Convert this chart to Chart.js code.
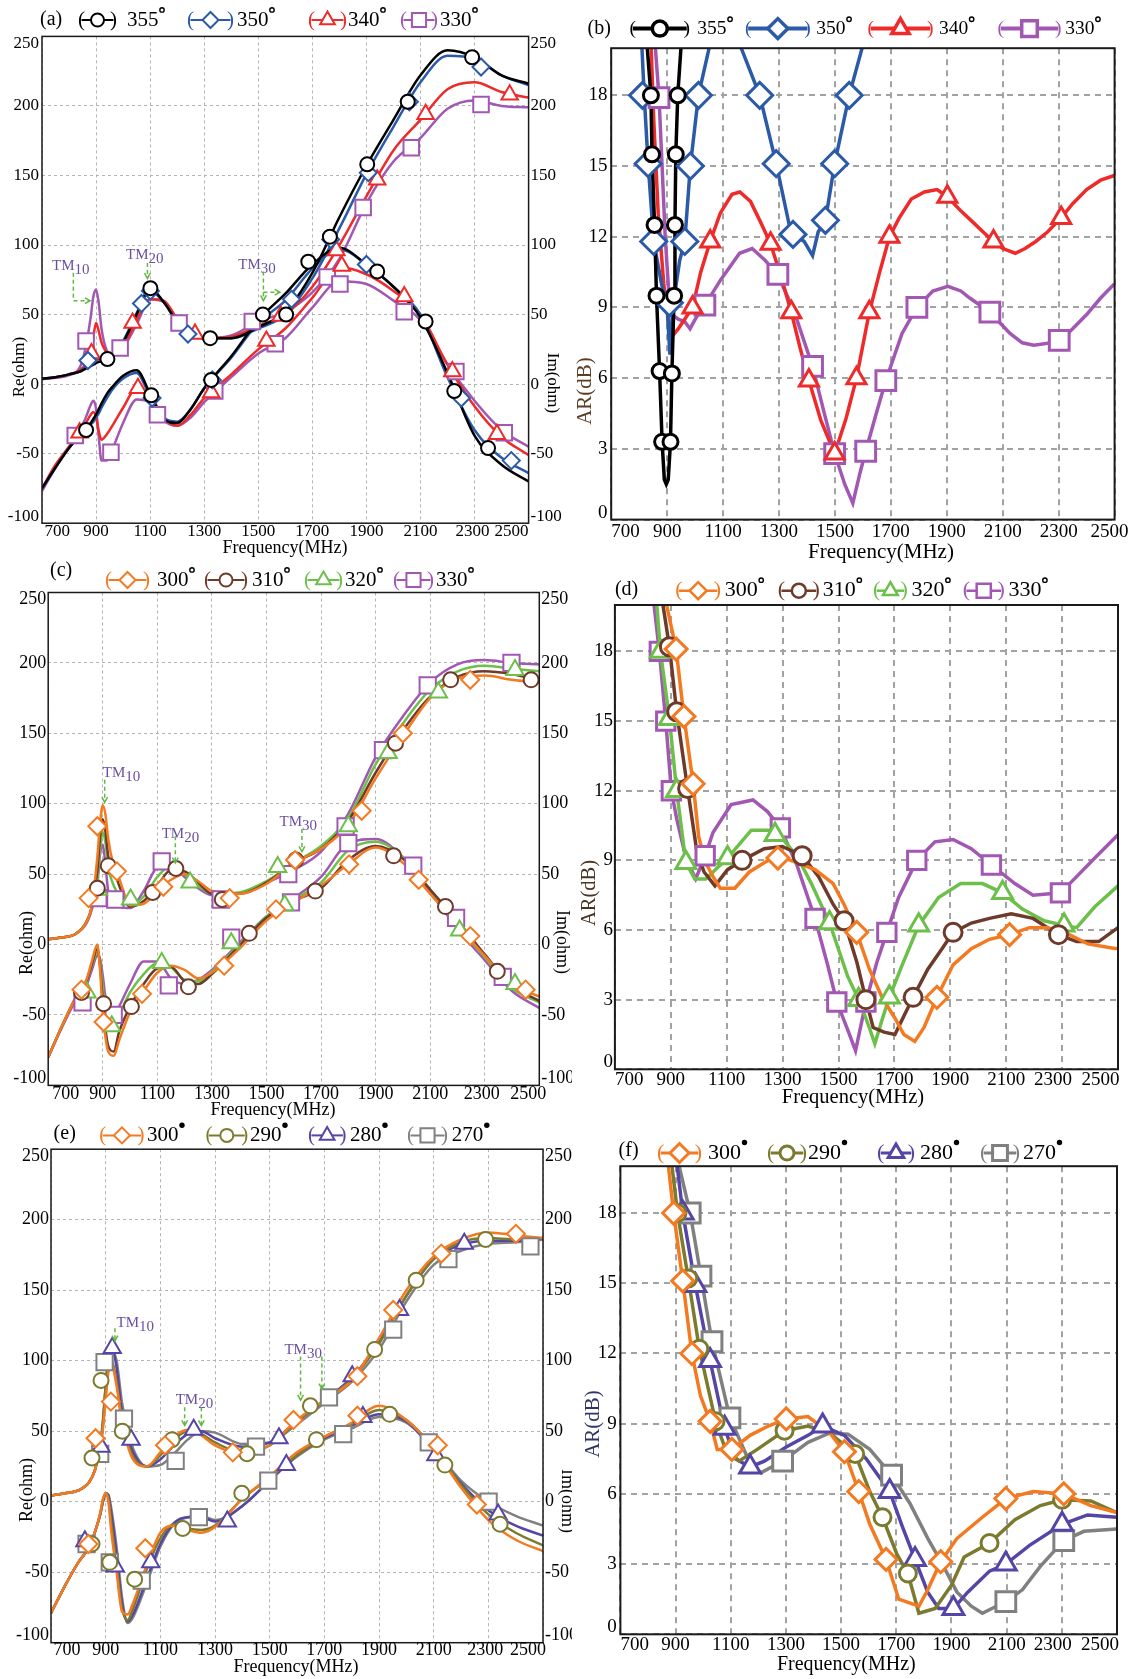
<!DOCTYPE html>
<html>
<head>
<meta charset="utf-8">
<title>Input impedance and axial ratio versus frequency</title>
<script src="https://cdn.jsdelivr.net/npm/chart.js@4.4.1/dist/chart.umd.min.js"></script>
<style>
  html, body { margin: 0; padding: 0; background: #fff; }
  #sheet { position: relative; width: 1134px; height: 1679px; overflow: hidden; }
  #sheet canvas { position: absolute; }
</style>
</head>
<body>
<div id="sheet">
  <canvas id="chartA"></canvas>
  <canvas id="chartB"></canvas>
  <canvas id="chartC"></canvas>
  <canvas id="chartD"></canvas>
  <canvas id="chartE"></canvas>
  <canvas id="chartF"></canvas>
</div>
<script>
const SERIF = '"Liberation Serif", "Times New Roman", serif';
Chart.defaults.font.family = SERIF;
Chart.defaults.color = '#000';

// frequency grid (MHz) for the impedance curves of (a) and (c)
const FREQ_AC = [700, 750, 800, 840, 860, 880, 890, 900, 910, 920, 940, 960, 1000, 1050, 1100, 1150, 1200, 1250, 1300, 1400, 1500, 1600, 1700, 1800, 1900, 2000, 2100, 2200, 2300, 2400, 2500];
// frequency grid (MHz) for the impedance curves of (e)
const FREQ_E = [700, 750, 800, 840, 860, 880, 890, 900, 910, 920, 940, 960, 980, 1000, 1050, 1100, 1150, 1200, 1250, 1300, 1400, 1500, 1600, 1700, 1800, 1900, 2000, 2100, 2200, 2300, 2400, 2500];

// (a) real / imaginary part (ohm), 355 / 350 / 340 / 330 deg
const RE_A_355 = [4, 5, 7, 9, 11, 13, 14, 15, 16, 16.5, 18, 21, 30, 50, 69, 59, 45, 37, 33, 33, 41, 52, 80, 120, 157, 190, 222, 240, 235, 222, 216];
const RE_A_350 = [4, 5, 7, 9, 12, 15, 16, 17, 18, 18.5, 19.5, 22, 31, 51, 67, 59, 45, 37, 33, 33, 40, 50, 76, 112, 151, 185, 217, 236, 234, 222, 215];
const RE_A_340 = [4, 5, 7, 10, 14, 22, 34, 44, 38, 30, 23, 22, 27, 46, 61, 60, 47, 37, 33, 34, 42, 50, 70, 100, 135, 168, 190, 212, 217, 210, 206];
const RE_A_330 = [3.5, 4.5, 6.5, 12, 25, 48, 63, 68, 58, 40, 24, 21, 26, 43, 61, 59, 45, 37, 33, 35, 45, 52, 66, 90, 130, 160, 177, 198, 204, 200, 199];
const IM_A_355 = [-75, -60, -46, -37, -33, -28, -25, -22, -18, -14, -7, -2, 6, 10, -7, -25, -28, -18, -3, 20, 46, 65, 86, 98, 86, 70, 48, 8, -37, -58, -70];
const IM_A_350 = [-75, -60, -46, -37, -33, -29, -27, -24, -21, -17, -10, -4, 4, 8, -9, -24, -27, -18, -3, 19, 44, 60, 83, 97, 86, 70, 50, 5, -33, -53, -64];
const IM_A_340 = [-75, -58, -45, -35, -29, -22, -20, -24, -34, -40, -36, -30, -17, -3, -8, -24, -30, -22, -10, 7, 25, 40, 62, 84, 79, 67, 50, 14, -16, -38, -51];
const IM_A_330 = [-77, -60, -45, -33, -25, -15, -12, -18, -38, -55, -55, -47, -28, -11, -13, -26, -30, -24, -13, 5, 22, 33, 55, 74, 72, 60, 46, 14, -12, -33, -45];
const MK_A_355 = [[863, -33], [942, 18], [1101, 69], [1104, -8], [1322, 33], [1326, 3], [1517, 50], [1603, 50], [1685, 88], [1765, 106], [1903, 158], [1940, 81], [2053, 203], [2119, 45], [2225, -5], [2291, 235], [2350, -46]];
const MK_A_350 = [[870, 17], [1068, 58], [1101, 67], [1107, -10], [1240, 36], [1330, 3], [1623, 61], [1768, 104], [1900, 86], [1907, 152], [2059, 203], [2251, -10], [2324, 228], [2436, -55]];
const MK_A_340 = [[839, -35], [883, 22], [1035, 44], [1055, -3], [1266, 36], [1326, -6], [1530, 31], [1583, 49], [1789, 96], [1809, 85], [1940, 147], [2040, 63], [2119, 194], [2218, 9], [2383, -36], [2430, 208]];
const MK_A_330 = [[823, -37], [863, 31], [955, -49], [989, 26], [1127, -22], [1207, 44], [1339, -5], [1478, 45], [1563, 29], [1755, 77], [1802, 72], [1888, 127], [2040, 52], [2066, 170], [2231, 9], [2324, 201], [2410, -35]];

// (b) axial ratio (dB), [MHz, dB]
const AR_B_355 = [[820, 24], [829, 20], [842, 18], [846, 15.5], [855, 12.5], [862, 9.5], [873, 6.3], [882, 3.3], [890, 1.7], [897, 1.5], [904, 1.7], [912, 3.3], [917, 6.2], [925, 9.5], [928, 12.5], [931, 15.5], [938, 18], [955, 21], [960, 24]];
const AR_B_350 = [[800, 24], [810, 20], [818, 18], [832, 15.1], [852, 11.8], [880, 10], [900, 9], [910, 7], [920, 9], [945, 11], [963, 11.8], [983, 15], [1012, 18], [1050, 20], [1060, 22], [1110, null], [1150, 22], [1165, 20], [1231, 18], [1290, 15.1], [1342, 12.2], [1390, 11.8], [1420, 11.2], [1440, 12.2], [1466, 12.7], [1499, 15.1], [1551, 18], [1597, 20], [1610, 22]];
const AR_B_340 = [[836, 24], [843, 20], [852, 17], [868, 13], [888, 10], [905, 8.4], [920, 7.8], [940, 8.1], [991, 9], [1020, 10.5], [1054, 11.8], [1090, 13], [1132, 13.8], [1160, 13.9], [1198, 13.5], [1235, 12.6], [1270, 11.7], [1310, 10.2], [1344, 8.8], [1375, 7.3], [1407, 5.9], [1450, 4.2], [1499, 2.8], [1540, 4.3], [1577, 6], [1623, 8.8], [1660, 10.5], [1695, 12], [1730, 12.8], [1773, 13.6], [1820, 13.9], [1865, 14], [1902, 13.7], [1950, 13.1], [1995, 12.6], [2030, 12.2], [2067, 11.8], [2100, 11.5], [2145, 11.3], [2180, 11.5], [2218, 11.8], [2260, 12.2], [2309, 12.8], [2350, 13.4], [2400, 14], [2450, 14.4], [2499, 14.6]];
const AR_B_330 = [[848, 24], [858, 20], [871, 17.9], [882, 15], [893, 12], [905, 9.8], [917, 8.7], [940, 8.5], [963, 8.4], [982, 8.1], [1005, 8.6], [1035, 9.1], [1093, 10.2], [1159, 11.3], [1204, 11.5], [1250, 11], [1296, 10.4], [1355, 8.8], [1420, 6.5], [1460, 4.6], [1499, 2.8], [1535, 1.5], [1564, 0.7], [1590, 2], [1610, 2.9], [1650, 4.6], [1682, 5.9], [1740, 7.9], [1793, 9], [1850, 9.7], [1904, 9.9], [1950, 9.7], [1982, 9.4], [2054, 8.8], [2126, 7.9], [2170, 7.5], [2211, 7.4], [2302, 7.55], [2350, 8.1], [2400, 8.7], [2450, 9.4], [2499, 10]];
const MK_B_355 = [[842, 18], [846, 15.5], [855, 12.5], [862, 9.5], [873, 6.3], [882, 3.3], [912, 3.3], [917, 6.2], [925, 9.5], [928, 12.5], [931, 15.5], [938, 18]];
const MK_B_350 = [[812, 18], [832, 15.1], [852, 11.8], [908, 9.2], [963, 11.8], [983, 15], [1012, 18], [1231, 18], [1290, 15.1], [1350, 12.1], [1466, 12.7], [1499, 15.1], [1551, 18]];
const MK_B_340 = [[991, 9], [1054, 11.8], [1270, 11.7], [1344, 8.8], [1407, 5.9], [1499, 2.8], [1577, 6], [1623, 8.8], [1695, 12], [1902, 13.7], [2067, 11.8], [2309, 12.8]];
const MK_B_330 = [[871, 17.9], [1035, 9.1], [1296, 10.4], [1420, 6.5], [1499, 2.8], [1610, 2.9], [1682, 5.9], [1793, 9], [2054, 8.8], [2302, 7.6]];

// (c) real / imaginary part (ohm), 300 / 310 / 320 / 330 deg
const RE_C_300 = [3.8, 5, 7.5, 16, 28, 62, 86, 99, 92, 75, 56, 47, 28, 29, 38, 46, 50, 45, 38, 36, 43, 58, 68, 85, 118, 148, 175, 189, 191, 188, 186];
const RE_C_310 = [3.8, 5, 7.5, 16, 27, 52, 76, 89, 80, 63, 54, 42, 27, 31, 42, 53, 52, 44, 36, 36, 44, 58, 68, 88, 122, 152, 176, 190, 194, 192, 188];
const RE_C_320 = [3.8, 5, 7.5, 16, 26, 46, 68, 80, 72, 55, 42, 35, 28, 34, 48, 56, 50, 42, 36, 37, 45, 58, 70, 90, 128, 157, 181, 194, 198, 196, 194];
const RE_C_330 = [3.8, 5, 7.5, 15, 25, 42, 64, 71, 56, 38, 30, 27, 26, 38, 55, 57, 48, 40, 35, 36, 44, 53, 66, 93, 133, 162, 186, 199, 202, 200, 199];
const IM_C_300 = [-80, -58, -38, -25, -12, 0, -18, -48, -66, -76, -79, -68, -48, -33, -20, -15, -18, -24, -20, -3, 17, 30, 42, 57, 69, 58, 36, 14, -8, -28, -37];
const IM_C_310 = [-80, -58, -38, -26, -14, -3, -15, -40, -60, -72, -76, -62, -44, -28, -17, -16, -26, -28, -21, -1, 19, 31, 40, 60, 70, 61, 39, 17, -7, -29, -40];
const IM_C_320 = [-80, -58, -38, -26, -15, -6, -12, -30, -48, -56, -58, -50, -34, -21, -13, -16, -25, -26, -19, 0, 20, 32, 44, 67, 73, 62, 39, 14, -9, -31, -41];
const IM_C_330 = [-80, -59, -40, -29, -18, -8, -10, -22, -38, -48, -51, -44, -28, -12, -12, -24, -28, -25, -18, 1, 20, 33, 48, 72, 75, 62, 38, 11, -11, -33, -45];
const MK_C_300 = [[822, -32], [848, 33], [880, 84], [903, -55], [952, 52], [1044, -35], [1122, 41], [1345, -15], [1365, 33], [1535, 25], [1605, 60], [1803, 57], [1849, 95], [2000, 150], [2058, 46], [2247, 188], [2247, 6], [2450, -32]];
const MK_C_310 = [[822, -34], [880, 40], [903, -42], [920, 56], [1005, -44], [1083, 37], [1168, 54], [1214, -30], [1338, 32], [1437, 8], [1607, 60], [1679, 38], [1966, 63], [1973, 143], [2156, 27], [2175, 188], [2346, -19], [2470, 188]];
const MK_C_320 = [[842, -34], [884, 39], [933, -58], [1002, 32], [1116, -13], [1220, 44], [1371, 1], [1541, 55], [1567, 28], [1800, 84], [1946, 136], [2130, 179], [2208, 10], [2411, -28], [2411, 195]];
const MK_C_330 = [[826, -41], [884, 33], [940, -50], [946, 32], [1116, 59], [1142, -29], [1332, 32], [1371, 5], [1580, 50], [1590, 30], [1790, 84], [1800, 72], [1927, 138], [2038, 56], [2091, 184], [2195, 19], [2366, -23], [2398, 200]];

// (d) axial ratio (dB), [MHz, dB]
const AR_D_300 = [[875, 24], [885, 20], [919, 18.1], [947, 15.2], [980, 12.3], [1000, 10], [1025, 8.9], [1051, 8.3], [1077, 7.8], [1129, 7.8], [1181, 8.5], [1234, 8.9], [1283, 9.2], [1351, 8.9], [1416, 8.6], [1481, 8], [1520, 7.1], [1565, 5.9], [1611, 4.3], [1656, 3.1], [1702, 2.2], [1734, 1.5], [1773, 1.2], [1806, 1.8], [1852, 3.1], [1910, 4.5], [1975, 5.2], [2040, 5.6], [2112, 5.8], [2183, 6.1], [2248, 6.1], [2326, 5.8], [2392, 5.4], [2489, 5.2], [2500, 5.2]];
const AR_D_310 = [[860, 24], [872, 20], [895, 18.2], [921, 15.4], [960, 12.1], [993, 9.4], [1019, 8.5], [1058, 7.9], [1103, 8.6], [1155, 9], [1234, 9.5], [1299, 9.6], [1370, 9.2], [1429, 8.3], [1481, 7.1], [1520, 6.4], [1566, 4.6], [1598, 3], [1624, 1.8], [1663, 1.6], [1702, 1.5], [1734, 2.3], [1767, 3.1], [1819, 4.3], [1871, 5.2], [1910, 5.9], [1975, 6.3], [2040, 6.5], [2118, 6.7], [2196, 6.5], [2287, 5.8], [2352, 5.5], [2431, 5.5], [2500, 6.1]];
const AR_D_320 = [[843, 24], [850, 20], [863, 18], [895, 15.1], [921, 12], [954, 8.9], [986, 8.2], [1025, 8.2], [1103, 9.1], [1188, 10.3], [1273, 10.3], [1351, 9.2], [1403, 8], [1468, 6.3], [1533, 4], [1580, 2.8], [1610, 1.8], [1630, 1.1], [1660, 2.3], [1682, 3.1], [1728, 4.5], [1787, 6.2], [1858, 7.4], [1937, 8], [2015, 8], [2087, 7.6], [2158, 6.9], [2236, 6.4], [2307, 6.2], [2352, 6.1], [2417, 7], [2500, 7.9]];
const AR_D_330 = [[835, 24], [840, 20], [859, 18], [882, 15], [902, 12], [921, 10.8], [954, 9.1], [989, 8.2], [1023, 9.2], [1051, 10.2], [1116, 11.4], [1194, 11.6], [1246, 11.1], [1292, 10.4], [1351, 8.8], [1416, 6.5], [1461, 4.5], [1494, 2.9], [1533, 1.7], [1561, 0.8], [1598, 2.9], [1637, 4.6], [1673, 5.9], [1715, 7.4], [1780, 9], [1845, 9.8], [1910, 9.9], [1975, 9.5], [2047, 8.8], [2131, 8], [2196, 7.5], [2294, 7.6], [2352, 8.3], [2417, 9.1], [2500, 10.1]];
const MK_D_300 = [[919, 18.1], [947, 15.2], [980, 12.3], [1283, 9.1], [1565, 5.9], [1852, 3.1], [2112, 5.8]];
const MK_D_310 = [[895, 18.2], [921, 15.4], [960, 12.1], [1155, 9], [1370, 9.2], [1520, 6.4], [1598, 3], [1767, 3.1], [1910, 5.9], [2287, 5.8]];
const MK_D_320 = [[863, 18], [895, 15.1], [921, 12], [954, 8.9], [1103, 9.1], [1273, 10.1], [1468, 6.3], [1572, 3], [1682, 3.1], [1787, 6.2], [2087, 7.6], [2307, 6.2]];
const MK_D_330 = [[859, 18], [882, 15], [902, 12], [1023, 9.2], [1292, 10.4], [1416, 6.5], [1494, 2.9], [1598, 2.9], [1673, 5.9], [1780, 9], [2047, 8.8], [2294, 7.6]];

// (e) real / imaginary part (ohm), 300 / 290 / 280 / 270 deg
const RE_E_300 = [4.4, 6, 8, 14, 22, 38, 52, 72, 92, 98, 82, 55, 40, 30, 25, 35, 46, 51, 47, 40, 34, 40, 58, 72, 86, 116, 150, 174, 186, 191, 189, 187];
const RE_E_290 = [4.4, 6, 8, 14, 22, 40, 58, 82, 98, 100, 85, 57, 42, 32, 25, 33, 44, 50, 48, 42, 35, 40, 57, 72, 87, 112, 146, 172, 184, 187, 186, 187];
const RE_E_280 = [4.4, 6, 8, 14, 22, 38, 55, 80, 100, 110, 95, 62, 46, 35, 25, 30, 40, 48, 50, 45, 39, 42, 57, 72, 88, 113, 146, 172, 182, 185, 185, 187];
const RE_E_270 = [4.4, 6, 8, 14, 22, 38, 55, 82, 102, 108, 100, 70, 52, 38, 25, 26, 34, 44, 50, 49, 41, 42, 55, 70, 85, 108, 142, 168, 178, 183, 184, 186];
const IM_E_300 = [-79, -60, -43, -32, -22, -8, 2, 6, 0, -20, -50, -78, -80, -72, -45, -22, -17, -20, -22, -18, 2, 18, 35, 46, 56, 68, 58, 38, 10, -13, -27, -35];
const IM_E_290 = [-79, -60, -43, -32, -22, -9, 1, 6, 2, -14, -45, -76, -84, -76, -48, -26, -16, -19, -20, -17, 2, 17, 33, 46, 55, 65, 58, 38, 12, -9, -22, -31];
const IM_E_280 = [-79, -60, -43, -32, -22, -9, 0, 6, 4, -8, -38, -72, -85, -80, -55, -30, -15, -11, -11, -14, -3, 15, 33, 45, 54, 62, 57, 36, 13, -6, -17, -24];
const IM_E_270 = [-79, -60, -43, -32, -22, -9, 0, 6, 5, -4, -32, -68, -86, -82, -58, -32, -16, -11, -10, -13, -3, 15, 32, 44, 52, 60, 56, 38, 15, 0, -10, -17];
const MK_E_300 = [[837, -30], [863, 45], [919, 71], [1045, -33], [1117, 40], [1365, 35], [1587, 58], [1821, 61], [1821, 89], [1952, 136], [2115, 40], [2128, 176], [2258, -2], [2401, 190]];
const MK_E_290 = [[850, 31], [850, -30], [883, 86], [915, -43], [961, 50], [1006, -55], [1143, 44], [1182, -19], [1398, 6], [1417, 34], [1649, 68], [1671, 44], [1884, 108], [1939, 62], [2036, 157], [2141, 26], [2290, 186], [2343, -16]];
const MK_E_280 = [[824, -28], [883, 39], [924, 109], [935, -46], [993, 44], [1065, -43], [1222, 51], [1345, -14], [1534, 45], [1561, 26], [1802, 89], [1841, 60], [1975, 136], [2108, 33], [2212, 183], [2336, -9]];
const MK_E_270 = [[830, -30], [880, 34], [896, 99], [915, -43], [967, 59], [1032, -56], [1156, 29], [1241, -11], [1450, 39], [1495, 15], [1717, 74], [1769, 48], [1952, 122], [2082, 42], [2154, 172], [2301, 0], [2454, 181]];

// (f) axial ratio (dB), [MHz, dB]
const AR_F_300 = [[868, 24], [874, 20], [893, 18], [926, 15.1], [959, 12], [990, 10.2], [1025, 9.1], [1051, 7.9], [1104, 7.9], [1170, 8.5], [1236, 8.9], [1301, 9.2], [1380, 9.3], [1459, 8.6], [1512, 7.8], [1564, 6.1], [1604, 4.7], [1663, 3.2], [1709, 1.5], [1782, 1.2], [1814, 1.9], [1861, 3.1], [1920, 4.1], [2012, 5], [2097, 5.8], [2196, 6.1], [2307, 6], [2405, 5.5], [2500, 5.2]];
const AR_F_290 = [[880, 24], [887, 20], [907, 18], [946, 15.2], [986, 12.2], [1045, 9.1], [1078, 8], [1130, 7.4], [1196, 7.9], [1295, 8.7], [1380, 8.9], [1459, 8.6], [1551, 7.7], [1604, 6.1], [1650, 5], [1703, 3.4], [1742, 2.6], [1782, 0.9], [1841, 1.1], [1900, 2.1], [1946, 3.3], [2038, 3.9], [2130, 4.9], [2222, 5.5], [2301, 5.75], [2405, 5.7], [2500, 5.2]];
const AR_F_280 = [[898, 24], [906, 20], [926, 18], [972, 14.9], [1025, 11.7], [1078, 8.8], [1117, 7.5], [1170, 7.15], [1222, 7.4], [1301, 8], [1380, 8.5], [1433, 8.9], [1512, 8.5], [1591, 7.5], [1676, 6.1], [1722, 4.6], [1768, 3.2], [1814, 1.8], [1854, 1.1], [1907, 1.1], [1959, 1.8], [2038, 2.7], [2097, 3], [2183, 3.8], [2301, 4.7], [2393, 5.1], [2500, 5]];
const AR_F_270 = [[905, 24], [913, 20], [953, 18], [992, 15.3], [1032, 12.5], [1097, 9.25], [1170, 7.3], [1209, 6.9], [1288, 7.4], [1380, 8.2], [1459, 8.6], [1525, 8.55], [1604, 7.9], [1683, 6.8], [1749, 5.6], [1814, 4.1], [1867, 3], [1920, 1.8], [1972, 1.2], [2012, 0.9], [2097, 1.4], [2157, 1.9], [2222, 2.9], [2307, 4], [2380, 4.4], [2500, 4.5]];
const MK_F_300 = [[893, 18], [926, 15.1], [959, 12], [1025, 9.1], [1104, 7.9], [1301, 9.2], [1512, 7.8], [1564, 6.1], [1663, 3.2], [1861, 3.1], [2097, 5.8], [2307, 6]];
const MK_F_290 = [[907, 18], [946, 15.2], [986, 12.2], [1045, 9.1], [1295, 8.7], [1551, 7.7], [1650, 5], [1742, 2.6], [2038, 3.9], [2301, 5.75]];
const MK_F_280 = [[926, 18], [972, 14.9], [1025, 11.7], [1078, 8.8], [1170, 7.15], [1433, 8.9], [1676, 6.1], [1768, 3.2], [1907, 1.1], [2097, 3], [2301, 4.7]];
const MK_F_270 = [[953, 18], [992, 15.3], [1032, 12.5], [1097, 9.25], [1288, 7.4], [1683, 6.8], [2097, 1.4], [2307, 4]];

// tick values shared by every panel
const FREQ_TICKS = [700, 900, 1100, 1300, 1500, 1700, 1900, 2100, 2300, 2500];
const OHM_TICKS = [-100, -50, 0, 50, 100, 150, 200, 250];
const AR_TICKS = [0, 3, 6, 9, 12, 15, 18];

// series colours
const C355 = '#000000', C350 = '#2b5aa8', C340 = '#ee2a2a', C330 = '#a257b3';
const C300 = '#f47a22', C310 = '#6e3b2a', C320 = '#6cc04a';
const C290 = '#7b7a2e', C280 = '#5445a6', C270 = '#808080';
const TM_TEXT = '#6b4fa0', TM_ARROW = '#62b844';

const POINT_STYLE = { circle: 'circle', diamond: 'rectRot', triangle: 'triangle', square: 'rect' };

function pts(freq, vals) { return freq.map((f, i) => ({ x: f, y: vals[i] })); }
function pairs(arr) { return arr.map(p => ({ x: p[0], y: p[1] })); }

function curve(data, color, width, axis, smooth) {
  return {
    data, borderColor: color, borderWidth: width, pointRadius: 0, fill: false,
    yAxisID: axis, tension: 0, cubicInterpolationMode: smooth ? 'monotone' : 'default',
    spanGaps: false, order: 1
  };
}
function marks(data, color, shape, size, width) {
  return {
    data, showLine: false, yAxisID: 'y', order: 0,
    pointStyle: POINT_STYLE[shape], pointRadius: size, pointBorderWidth: width,
    pointBorderColor: color, pointBackgroundColor: '#fff', borderColor: color, backgroundColor: '#fff'
  };
}

function impedanceSets(freq, series, ms) {
  const sets = [];
  series.forEach(s => {
    sets.push(curve(pts(freq, s.re), s.color, 2.5, 'y', true));
    sets.push(curve(pts(freq, s.im), s.color, 2.5, 'y2', true));
    sets.push(marks(pairs(s.mk), s.color, s.shape, ms[s.shape], 2));
  });
  return sets;
}
function ratioSets(series, ms) {
  const sets = [];
  series.forEach(s => {
    sets.push(curve(pairs(s.ar), s.color, 3.5, 'y', false));
    sets.push(marks(pairs(s.mk), s.color, s.shape, ms[s.shape], 3));
  });
  return sets;
}

// marker outline used in the legends
function shape(ctx, kind, x, y, r) {
  ctx.beginPath();
  if (kind === 'circle') {
    ctx.arc(x, y, r, 0, Math.PI * 2);
  } else if (kind === 'diamond') {
    ctx.moveTo(x - r, y); ctx.lineTo(x, y - r); ctx.lineTo(x + r, y); ctx.lineTo(x, y + r); ctx.closePath();
  } else if (kind === 'triangle') {
    ctx.moveTo(x, y - r); ctx.lineTo(x + r * 0.866, y + r * 0.5); ctx.lineTo(x - r * 0.866, y + r * 0.5); ctx.closePath();
  } else {
    const s = r * Math.SQRT1_2;
    ctx.rect(x - s, y - s, 2 * s, 2 * s);
  }
  ctx.fill();
  ctx.stroke();
}

// tick labels: edge labels are pulled inside the frame
function drawTickLabels(ctx, chart, opt) {
  const a = chart.chartArea, xs = chart.scales.x, ys = chart.scales.y;
  ctx.fillStyle = '#000';
  ctx.font = opt.tickSize + 'px ' + SERIF;
  ctx.textBaseline = 'middle';
  opt.yTicks.forEach(v => {
    let py = ys.getPixelForValue(v);
    if (py - a.top < 1) py += 7;
    else if (a.bottom - py < 1) py -= 7;
    ctx.textAlign = 'right';
    ctx.fillText(String(v), a.left - opt.yPad, py);
    if (opt.rightAxis) {
      ctx.textAlign = 'left';
      ctx.fillText(String(v), a.right + opt.yPad2, py);
    }
  });
  const xl = opt.xl;
  FREQ_TICKS.forEach((v, i) => {
    let px = xs.getPixelForValue(v), align = 'center';
    if (i === 0) { align = 'left'; px += xl.first; }
    else if (i === FREQ_TICKS.length - 1) { align = xl.lastCenter ? 'center' : 'right'; px += xl.last; }
    else if (xl.nudge && xl.nudge[v]) px += xl.nudge[v];
    ctx.textAlign = align;
    ctx.fillText(String(v), px, a.bottom + xl.dy);
  });
}

function drawMode(ctx, chart, t) {
  const X = v => chart.scales.x.getPixelForValue(v);
  const Y = v => chart.scales.y.getPixelForValue(v);
  ctx.font = '15px ' + SERIF;
  ctx.fillStyle = TM_TEXT;
  ctx.textAlign = 'left';
  ctx.textBaseline = 'alphabetic';
  const x = X(t.at[0]), y = Y(t.at[1]);
  ctx.fillText('TM', x, y);
  ctx.fillText(t.sub, x + ctx.measureText('TM').width, y + 4);
  ctx.strokeStyle = TM_ARROW;
  ctx.lineWidth = 1.5;
  t.arrows.forEach(path => {
    const p = path.map(q => [X(q[0]), Y(q[1])]);
    ctx.setLineDash([4, 3]);
    ctx.beginPath();
    ctx.moveTo(p[0][0], p[0][1]);
    p.slice(1).forEach(q => ctx.lineTo(q[0], q[1]));
    ctx.stroke();
    const [xa, ya] = p[p.length - 2], [xb, yb] = p[p.length - 1];
    const ang = Math.atan2(yb - ya, xb - xa);
    ctx.setLineDash([]);
    ctx.beginPath();
    ctx.moveTo(xb - 6 * Math.cos(ang - 0.5), yb - 6 * Math.sin(ang - 0.5));
    ctx.lineTo(xb, yb);
    ctx.lineTo(xb - 6 * Math.cos(ang + 0.5), yb - 6 * Math.sin(ang + 0.5));
    ctx.stroke();
  });
}

function drawLegend(ctx, box, opt) {
  const L = opt.legend;
  const y = L.y - box.top;
  ctx.font = L.size + 'px ' + SERIF;
  ctx.textBaseline = 'middle';
  ctx.setLineDash([]);
  opt.series.forEach((s, i) => {
    const [x0, x1, tx] = L.pos[i].map(v => v - box.left);
    ctx.fillStyle = s.color;
    ctx.textAlign = 'left';
    ctx.fillText('(', x0, y);
    ctx.textAlign = 'right';
    ctx.fillText(')', x1, y);
    const pw = ctx.measureText('(').width;
    ctx.strokeStyle = s.color;
    ctx.lineWidth = L.lw;
    ctx.beginPath();
    ctx.moveTo(x0 + pw * 0.5, y);
    ctx.lineTo(x1 - pw * 0.5, y);
    ctx.stroke();
    ctx.fillStyle = '#fff';
    ctx.lineWidth = L.mw;
    shape(ctx, s.shape, (x0 + x1) / 2, y, L.mr[s.shape]);
    ctx.fillStyle = '#000';
    ctx.textAlign = 'left';
    ctx.fillText(s.label, tx, y);
    const w = ctx.measureText(s.label).width;
    ctx.beginPath();
    ctx.arc(tx + w + 3.5, y - L.size * 0.48, L.dot ? 2.7 : 2.2, 0, Math.PI * 2);
    if (L.dot) {
      ctx.fill();
    } else {
      ctx.strokeStyle = '#000';
      ctx.lineWidth = 1.4;
      ctx.stroke();
    }
  });
}

function decorations(box, opt) {
  return {
    id: 'decor',
    afterDraw(chart) {
      const ctx = chart.ctx;
      const a = chart.chartArea;
      ctx.save();
      ctx.setLineDash([]);
      ctx.strokeStyle = '#1a1a1a';
      ctx.lineWidth = opt.frame;
      ctx.strokeRect(a.left, a.top, a.right - a.left, a.bottom - a.top);

      drawTickLabels(ctx, chart, opt);
      (opt.tm || []).forEach(t => drawMode(ctx, chart, t));

      ctx.fillStyle = '#000';
      ctx.font = '20px ' + SERIF;
      ctx.textAlign = 'left';
      ctx.textBaseline = 'middle';
      ctx.fillText(opt.tag[0], opt.tag[1] - box.left, opt.tag[2] - box.top);

      drawLegend(ctx, box, opt);

      opt.titles.forEach(t => {
        ctx.save();
        ctx.translate(t.x - box.left, t.y - box.top);
        ctx.rotate(t.rot * Math.PI / 180);
        ctx.fillStyle = t.color || '#000';
        ctx.font = t.size + 'px ' + SERIF;
        ctx.textAlign = 'center';
        ctx.textBaseline = 'middle';
        ctx.fillText(t.text, 0, 0);
        ctx.restore();
      });
      ctx.restore();
    }
  };
}

function buildPanel(id, box, plot, opt) {
  const canvas = document.getElementById(id);
  canvas.width = box.w;
  canvas.height = box.h;
  canvas.style.left = box.left + 'px';
  canvas.style.top = box.top + 'px';

  const gridOpts = { color: opt.gridColor, lineWidth: opt.gridWidth, drawTicks: false };
  const yAxis = (pos, width, withGrid) => ({
    type: 'linear', position: pos, min: opt.ymin, max: opt.ymax,
    ticks: { display: false, stepSize: opt.ystep, autoSkip: false },
    afterBuildTicks: s => { s.ticks = s.ticks.filter(t => opt.yTicks.includes(t.value)); },
    grid: withGrid ? gridOpts : { display: false, drawTicks: false },
    border: { display: false, dash: opt.dash },
    afterFit: s => { s.width = width; }
  });
  const scales = {
    x: {
      type: 'linear', min: 700, max: 2500,
      ticks: { display: false, stepSize: 200, autoSkip: false },
      grid: gridOpts,
      border: { display: false, dash: opt.dash },
      afterFit: s => { s.height = box.top + box.h - plot.b; }
    },
    y: yAxis('left', plot.l - box.left, true)
  };
  if (opt.rightAxis) scales.y2 = yAxis('right', box.left + box.w - plot.r, false);

  return new Chart(canvas, {
    type: 'line',
    data: { datasets: opt.datasets },
    options: {
      responsive: false,
      animation: false,
      devicePixelRatio: 1,
      events: [],
      layout: { padding: { top: plot.t - box.top, left: 0, bottom: 0, right: opt.rightAxis ? 0 : box.left + box.w - plot.r } },
      plugins: { legend: { display: false }, tooltip: { enabled: false } },
      scales
    },
    plugins: [decorations(box, opt)]
  });
}

// shared look of the impedance and axial-ratio panels
const IMP_LOOK = { ymin: -100, ymax: 250, ystep: 50, yTicks: OHM_TICKS, rightAxis: true, gridColor: '#b4b4b4', gridWidth: 1, dash: [3, 3], frame: 1.5, yPad2: 2 };
const AR_LOOK = { ymin: 0, ymax: 20, ystep: 3, yTicks: AR_TICKS, rightAxis: false, gridColor: '#a2a2a2', gridWidth: 2, dash: [6, 5], frame: 2, tickSize: 19 };
const MS_IMP = { circle: 7.5, diamond: 9, triangle: 10, square: 11.5 };
const LEG_IMP = { circle: 6.5, diamond: 8, triangle: 8.5, square: 10 };

// ---- (a) ----
const SERIES_A = [
  { label: '355', color: C355, shape: 'circle', re: RE_A_355, im: IM_A_355, mk: MK_A_355 },
  { label: '350', color: C350, shape: 'diamond', re: RE_A_350, im: IM_A_350, mk: MK_A_350 },
  { label: '340', color: C340, shape: 'triangle', re: RE_A_340, im: IM_A_340, mk: MK_A_340 },
  { label: '330', color: C330, shape: 'square', re: RE_A_330, im: IM_A_330, mk: MK_A_330 }
];
buildPanel('chartA', { left: 0, top: 0, w: 572, h: 566 }, { l: 42, t: 36.4, r: 528.6, b: 523.2 }, Object.assign({}, IMP_LOOK, {
  tickSize: 17, yPad: 3,
  xl: { first: 2.5, last: 0, dy: 8.8, nudge: { 2300: -2 } },
  series: SERIES_A,
  datasets: impedanceSets(FREQ_AC, SERIES_A, { circle: 7, diamond: 8.5, triangle: 9.5, square: 11 }),
  tag: ['(a)', 40, 20],
  legend: { y: 20, size: 21, lw: 2, mw: 2, dot: false, mr: LEG_IMP, pos: [[78, 117, 127], [187, 234, 237], [308, 347, 348], [400, 438, 440]] },
  titles: [
    { text: 'Re(ohm)', x: 20, y: 367, rot: -90, size: 17 },
    { text: 'Im(ohm)', x: 552, y: 383, rot: 90, size: 17 },
    { text: 'Frequency(MHz)', x: 285, y: 548, rot: 0, size: 18 }
  ],
  tm: [
    { at: [737, 82], sub: '10', arrows: [[[816, 80], [816, 60], [878, 60]]] },
    { at: [1011, 90], sub: '20', arrows: [[[1090, 87], [1090, 76]]] },
    { at: [1426, 83], sub: '30', arrows: [[[1519, 81], [1519, 60]], [[1519, 66], [1580, 66]]] }
  ]
}));

// ---- (b) ----
const SERIES_B = [
  { label: '355', color: C355, shape: 'circle', ar: AR_B_355, mk: MK_B_355 },
  { label: '350', color: C350, shape: 'diamond', ar: AR_B_350, mk: MK_B_350 },
  { label: '340', color: C340, shape: 'triangle', ar: AR_B_340, mk: MK_B_340 },
  { label: '330', color: C330, shape: 'square', ar: AR_B_330, mk: MK_B_330 }
];
buildPanel('chartB', { left: 572, top: 0, w: 562, h: 566 }, { l: 611.2, t: 48.2, r: 1114.6, b: 519.6 }, Object.assign({}, AR_LOOK, {
  yPad: 3.6,
  xl: { first: 0, last: -5, lastCenter: true, dy: 12.4 },
  series: SERIES_B,
  datasets: ratioSets(SERIES_B, { circle: 7.5, diamond: 13, triangle: 11, square: 14 }),
  tag: ['(b)', 587.5, 28.6],
  legend: { y: 28.6, size: 19.5, lw: 4, mw: 3.5, dot: false, mr: { circle: 7.5, diamond: 10, triangle: 10, square: 11 }, pos: [[629.6, 690, 697.3], [744.9, 810.8, 816.3], [867.5, 933.4, 938.9], [997.5, 1061.5, 1065.2]] },
  titles: [
    { text: 'AR(dB)', x: 585.6, y: 391, rot: -90, size: 21, color: '#5a3d22' },
    { text: 'Frequency(MHz)', x: 881, y: 552, rot: 0, size: 21 }
  ]
}));

// ---- (c) ----
const SERIES_C = [
  { label: '300', color: C300, shape: 'diamond', re: RE_C_300, im: IM_C_300, mk: MK_C_300 },
  { label: '310', color: C310, shape: 'circle', re: RE_C_310, im: IM_C_310, mk: MK_C_310 },
  { label: '320', color: C320, shape: 'triangle', re: RE_C_320, im: IM_C_320, mk: MK_C_320 },
  { label: '330', color: C330, shape: 'square', re: RE_C_330, im: IM_C_330, mk: MK_C_330 }
];
buildPanel('chartC', { left: 0, top: 558, w: 572, h: 566 }, { l: 48.2, t: 592.5, r: 539.3, b: 1085.4 }, Object.assign({}, IMP_LOOK, {
  tickSize: 18, yPad: 2,
  xl: { first: 4, last: 7, dy: 8.9, nudge: { 2300: -3 } },
  series: SERIES_C,
  datasets: impedanceSets(FREQ_AC, SERIES_C, MS_IMP),
  tag: ['(c)', 50, 571],
  legend: { y: 580, size: 21, lw: 2, mw: 2, dot: false, mr: LEG_IMP, pos: [[105, 150, 157], [204, 248, 252], [304, 343, 345], [393, 434, 436]] },
  titles: [
    { text: 'Re(ohm)', x: 27, y: 943, rot: -90, size: 18 },
    { text: 'Im(ohm)', x: 562, y: 942, rot: 90, size: 18 },
    { text: 'Frequency(MHz)', x: 273, y: 1110, rot: 0, size: 18 }
  ],
  tm: [
    { at: [900, 119], sub: '10', arrows: [[[907, 117], [907, 101]]] },
    { at: [1116, 76], sub: '20', arrows: [[[1166, 77], [1166, 58]]] },
    { at: [1548, 84], sub: '30', arrows: [[[1630, 82], [1630, 66]]] }
  ]
}));

// ---- (d) ----
const SERIES_D = [
  { label: '300', color: C300, shape: 'diamond', ar: AR_D_300, mk: MK_D_300 },
  { label: '310', color: C310, shape: 'circle', ar: AR_D_310, mk: MK_D_310 },
  { label: '320', color: C320, shape: 'triangle', ar: AR_D_320, mk: MK_D_320 },
  { label: '330', color: C330, shape: 'square', ar: AR_D_330, mk: MK_D_330 }
];
buildPanel('chartD', { left: 572, top: 558, w: 562, h: 566 }, { l: 614.9, t: 605, r: 1118.3, b: 1069.3 }, Object.assign({}, AR_LOOK, {
  yPad: 2,
  xl: { first: 0, last: 1.5, dy: 10.7, nudge: { 2300: -9 } },
  series: SERIES_D,
  datasets: ratioSets(SERIES_D, { circle: 9, diamond: 11, triangle: 11.5, square: 13 }),
  tag: ['(d)', 614.9, 590],
  legend: { y: 590.7, size: 22, lw: 2.5, mw: 2.5, dot: false, mr: { circle: 7, diamond: 8.5, triangle: 8.5, square: 10 }, pos: [[675.3, 721, 724.7], [777.8, 819.9, 822.8], [873, 907.8, 911.4], [962.7, 1004.8, 1008.4]] },
  titles: [
    { text: 'AR(dB)', x: 590, y: 893, rot: -90, size: 20.5, color: '#4a3520' },
    { text: 'Frequency(MHz)', x: 852.9, y: 1098, rot: 0, size: 20.5 }
  ]
}));

// ---- (e) ----
const SERIES_E = [
  { label: '300', color: C300, shape: 'diamond', re: RE_E_300, im: IM_E_300, mk: MK_E_300 },
  { label: '290', color: C290, shape: 'circle', re: RE_E_290, im: IM_E_290, mk: MK_E_290 },
  { label: '280', color: C280, shape: 'triangle', re: RE_E_280, im: IM_E_280, mk: MK_E_280 },
  { label: '270', color: C270, shape: 'square', re: RE_E_270, im: IM_E_270, mk: MK_E_270 }
];
buildPanel('chartE', { left: 0, top: 1118, w: 572, h: 561 }, { l: 51, t: 1149.2, r: 543, b: 1642.7 }, Object.assign({}, IMP_LOOK, {
  tickSize: 18, yPad: 2,
  xl: { first: 2.5, last: 3, dy: 7.9, nudge: { 2300: -3 } },
  series: SERIES_E,
  datasets: impedanceSets(FREQ_E, SERIES_E, MS_IMP),
  tag: ['(e)', 53.6, 1134],
  legend: { y: 1135.4, size: 21, lw: 2, mw: 2, dot: true, mr: LEG_IMP, pos: [[99.3, 144.6, 147], [205.4, 248.2, 250], [307.9, 346.4, 350], [407, 448, 451.8]] },
  titles: [
    { text: 'Re(ohm)', x: 27, y: 1490, rot: -90, size: 18 },
    { text: 'Im(ohm)', x: 567, y: 1501, rot: 90, size: 18 },
    { text: 'Frequency(MHz)', x: 296, y: 1667, rot: 0, size: 18 }
  ],
  tm: [
    { at: [940, 124], sub: '10', arrows: [[[934, 123], [934, 114]]] },
    { at: [1156, 69], sub: '20', arrows: [[[1189, 67], [1189, 54]], [[1250, 67], [1250, 54]]] },
    { at: [1554, 105], sub: '30', arrows: [[[1613, 103], [1613, 72]], [[1691, 103], [1691, 80]]] }
  ]
}));

// ---- (f) ----
const SERIES_F = [
  { label: '300', color: C300, shape: 'diamond', ar: AR_F_300, mk: MK_F_300 },
  { label: '290', color: C290, shape: 'circle', ar: AR_F_290, mk: MK_F_290 },
  { label: '280', color: C280, shape: 'triangle', ar: AR_F_280, mk: MK_F_280 },
  { label: '270', color: C270, shape: 'square', ar: AR_F_270, mk: MK_F_270 }
];
buildPanel('chartF', { left: 572, top: 1118, w: 562, h: 561 }, { l: 620.4, t: 1166.2, r: 1120, b: 1634.3 }, Object.assign({}, AR_LOOK, {
  yPad: 3.7,
  xl: { first: 0, last: 2, dy: 10.7, nudge: { 2300: -9 } },
  series: SERIES_F,
  datasets: ratioSets(SERIES_F, { circle: 8.5, diamond: 11, triangle: 12, square: 14 }),
  tag: ['(f)', 618.6, 1150.6],
  legend: { y: 1153, size: 22, lw: 3, mw: 3, dot: true, mr: { circle: 7, diamond: 9.5, triangle: 9, square: 10.5 }, pos: [[657, 702, 708], [767, 807, 808], [877, 915, 920], [980, 1020, 1023]] },
  titles: [
    { text: 'AR(dB)', x: 593.7, y: 1424, rot: -90, size: 21, color: '#2f3566' },
    { text: 'Frequency(MHz)', x: 846.3, y: 1665, rot: 0, size: 20 }
  ]
}));
</script>
</body>
</html>
